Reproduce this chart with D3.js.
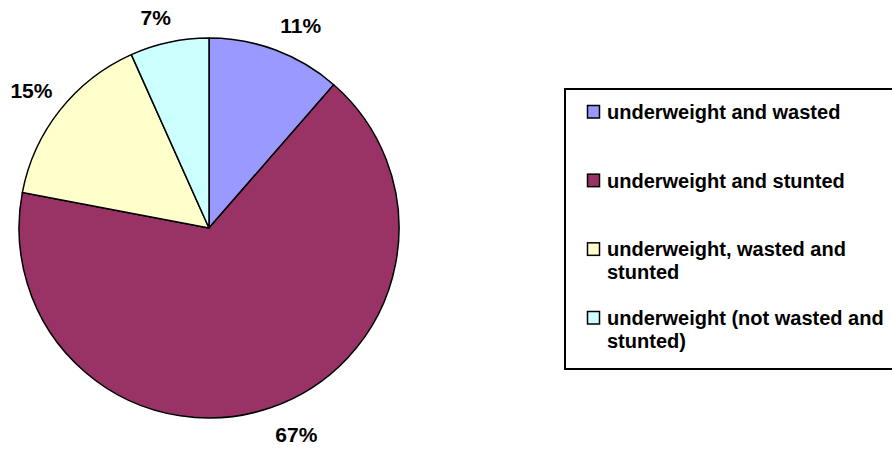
<!DOCTYPE html>
<html>
<head>
<meta charset="utf-8">
<script src="https://cdn.jsdelivr.net/npm/d3@7"></script>
<style>
  html, body { margin: 0; padding: 0; background: #fff; }
  svg { display: block; }
  text { font-family: "Liberation Sans", Arial, sans-serif; font-weight: bold; fill: #000; }
</style>
</head>
<body>
<svg id="chart" width="892" height="449"></svg>
<script>
const categories = [
  "underweight and wasted",
  "underweight and stunted",
  "underweight, wasted and stunted",
  "underweight (not wasted and stunted)"
];
const values = [11.4, 66.6, 15.3, 6.7];
const colors = ["#9999FF", "#993366", "#FFFFCC", "#CCFFFF"];

const svg = d3.select("#chart");
const cx = 209, cy = 228, R = 190;

const total = d3.sum(values);
const pie = d3.pie().sort(null).value(d => d)(values);
const arc = d3.arc().innerRadius(0).outerRadius(R);

const g = svg.append("g").attr("transform", `translate(${cx},${cy})`);
g.selectAll("path.slice")
  .data(pie)
  .join("path")
  .attr("class", "slice")
  .attr("d", arc)
  .attr("fill", (d, i) => colors[i])
  .attr("stroke", "#000")
  .attr("stroke-width", 1.5)
  .attr("stroke-linejoin", "round");

// labels: corner of label box nearest the pie sits on an outer anchor
const fmt = d3.format(".0%");
const labelR = 206;
g.selectAll("text.lbl")
  .data(pie)
  .join("text")
  .attr("class", "lbl")
  .style("font-size", "21px")
  .each(function(d) {
    const a = (d.startAngle + d.endAngle) / 2;
    const ax = labelR * Math.sin(a);
    const ay = -labelR * Math.cos(a);
    const right = Math.sin(a) >= 0;
    const top = Math.cos(a) >= 0;
    d3.select(this)
      .attr("text-anchor", right ? "start" : "end")
      .attr("x", ax + (right ? -1 : 5))
      .attr("y", top ? ay - 2 : ay + 19)
      .text(fmt(d.value / total));
  });

// legend
const lx = 565, ly = 89, lw = 340, lh = 280;
svg.append("rect")
  .attr("x", lx).attr("y", ly).attr("width", lw).attr("height", lh)
  .attr("fill", "#fff").attr("stroke", "#000").attr("stroke-width", 2);

const yScale = d3.scalePoint().domain(categories).range([119, 325]);
const maxW = 282;
const lineH = 23;

const items = svg.selectAll("g.item")
  .data(categories)
  .join("g")
  .attr("class", "item")
  .attr("transform", d => `translate(0,${yScale(d)})`);

items.append("rect")
  .attr("x", 587.5).attr("y", -13.5)
  .attr("width", 12).attr("height", 12.5)
  .attr("fill", (d, i) => colors[i])
  .attr("stroke", "#000").attr("stroke-width", 1.5);

items.append("text")
  .attr("x", 607).attr("y", 0)
  .style("font-size", "20px")
  .each(function(d) {
    const t = d3.select(this);
    const words = d.split(" ");
    let line = [];
    let tspan = t.append("tspan").attr("x", 607).attr("dy", 0);
    for (const w of words) {
      line.push(w);
      tspan.text(line.join(" "));
      if (tspan.node().getComputedTextLength() > maxW && line.length > 1) {
        line.pop();
        tspan.text(line.join(" "));
        line = [w];
        tspan = t.append("tspan").attr("x", 607).attr("dy", lineH).text(w);
      }
    }
  });
</script>
</body>
</html>
